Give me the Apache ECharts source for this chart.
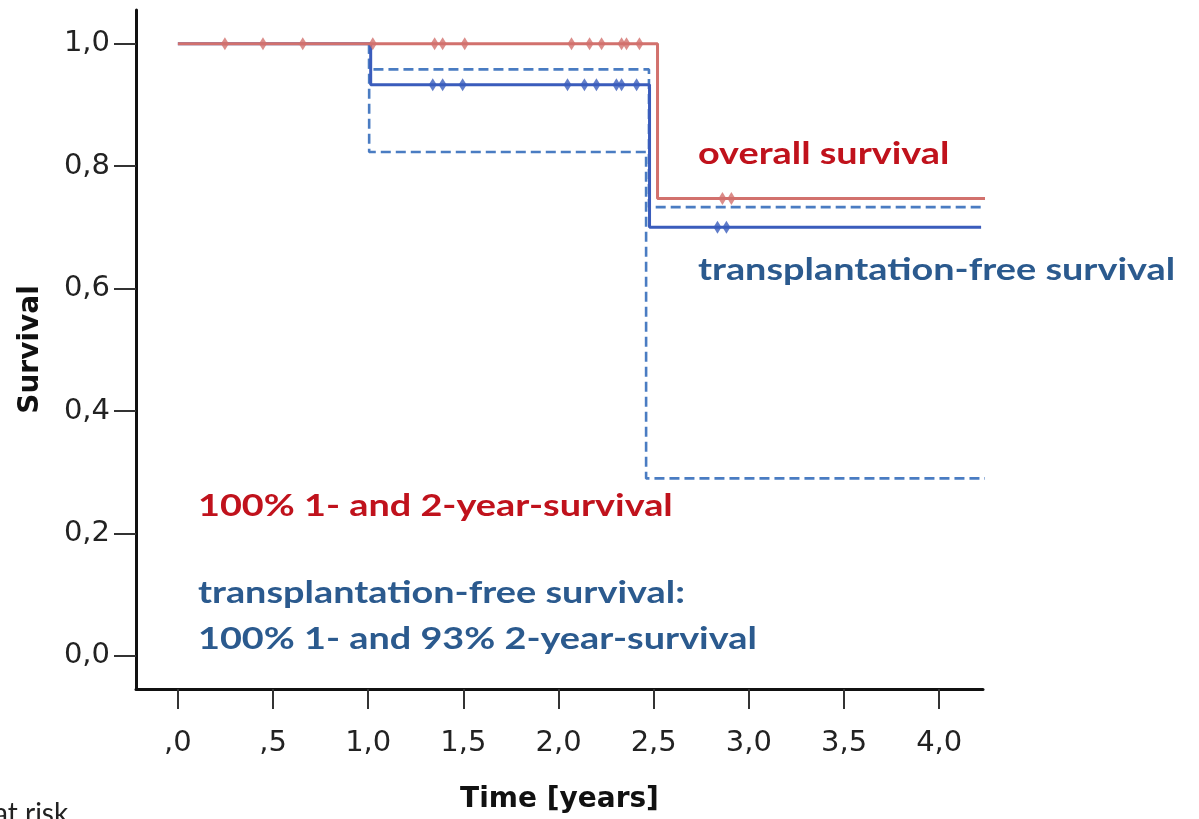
<!DOCTYPE html>
<html>
<head>
<meta charset="utf-8">
<script src="https://cdn.jsdelivr.net/npm/echarts@6/dist/echarts.min.js"></script>
<style>html,body{margin:0;padding:0;background:#fff}#c{width:1199px;height:819px}</style>
</head>
<body>
<div id="c"></div>
<script>
// Tick values and labels
var xTickValues = [0, 0.5, 1.0, 1.5, 2.0, 2.5, 3.0, 3.5, 4.0];
var xTickLabels = [',0', ',5', '1,0', '1,5', '2,0', '2,5', '3,0', '3,5', '4,0'];
var yTickValues = [0, 0.2, 0.4, 0.6, 0.8, 1.0];
var yTickLabels = ['0,0', '0,2', '0,4', '0,6', '0,8', '1,0'];

// Overall survival (step curve points: time, survival)
var overallCurve = [[0, 1.0], [2.52, 1.0], [2.52, 0.747], [4.26, 0.747]];
var overallCensors = [[0.247, 1.0], [0.447, 1.0], [0.656, 1.0], [1.024, 1.0], [1.349, 1.0], [1.391, 1.0], [1.507, 1.0],
  [2.068, 1.0], [2.163, 1.0], [2.226, 1.0], [2.331, 1.0], [2.357, 1.0], [2.425, 1.0], [2.861, 0.747], [2.908, 0.747]];

// Transplantation-free survival
var tfsCurve = [[0, 1.0], [1.013, 1.0], [1.013, 0.933], [2.478, 0.933], [2.478, 0.700], [4.22, 0.700]];
var tfsCensors = [[1.339, 0.933], [1.391, 0.933], [1.496, 0.933], [2.047, 0.933], [2.136, 0.933], [2.199, 0.933],
  [2.304, 0.933], [2.331, 0.933], [2.41, 0.933], [2.835, 0.700], [2.882, 0.700]];

// 95% confidence limits of transplantation-free survival
var tfsUpper = [[1.005, 1.0], [1.005, 0.958], [2.475, 0.958], [2.475, 0.733], [4.26, 0.733]];
var tfsLower = [[1.005, 1.0], [1.005, 0.823], [2.46, 0.823], [2.46, 0.290], [4.26, 0.290]];

var chart = echarts.init(document.getElementById('c'));
var tickFont = 'DejaVu Sans';
var annoFont = 'Lato';
var red = '#d2716d', blue = '#3a5cbc', dashBlue = '#4a7cc2';
var redText = '#c0121c', blueText = '#2b5a8e';
var sx = 1.22;

chart.setOption({
  animation: false,
  backgroundColor: '#fff',
  grid: { left: 136, right: 216, top: 10, bottom: 126, containLabel: false },
  xAxis: {
    type: 'value', min: -0.22, max: 4.23,
    name: 'Time [years]', nameLocation: 'middle', nameGap: 97,
    nameTextStyle: { fontFamily: tickFont, fontWeight: 'bold', fontSize: 28, color: '#111' },
    axisLine: { show: true, onZero: false, lineStyle: { color: '#111', width: 3 } },
    axisTick: { show: true, customValues: xTickValues, length: 20, lineStyle: { color: '#333', width: 2 } },
    axisLabel: {
      customValues: xTickValues, margin: 40, fontFamily: tickFont, fontSize: 29, color: '#222',
      formatter: function (v) { var i = xTickValues.indexOf(Math.round(v * 10) / 10); return i >= 0 ? xTickLabels[i] : ''; }
    },
    splitLine: { show: false }
  },
  yAxis: {
    type: 'value', min: -0.054, max: 1.055,
    name: 'Survival', nameLocation: 'middle', nameGap: 91, nameRotate: 90,
    nameTextStyle: { fontFamily: tickFont, fontWeight: 'bold', fontSize: 28, color: '#111' },
    axisLine: { show: true, onZero: false, lineStyle: { color: '#111', width: 3 } },
    axisTick: { show: true, customValues: yTickValues, length: 22, lineStyle: { color: '#333', width: 2 } },
    axisLabel: {
      customValues: yTickValues, margin: 26, fontFamily: tickFont, fontSize: 29, color: '#222',
      formatter: function (v) { var i = yTickValues.indexOf(Math.round(v * 10) / 10); return i >= 0 ? yTickLabels[i] : ''; }
    },
    splitLine: { show: false }
  },
  series: [
    { type: 'line', data: tfsLower, symbol: 'none', clip: false, z: 2,
      lineStyle: { color: dashBlue, width: 2.6, type: [10, 5] } },
    { type: 'line', data: tfsUpper, symbol: 'none', clip: false, z: 2,
      lineStyle: { color: dashBlue, width: 2.6, type: [10, 5] } },
    { type: 'line', data: tfsCurve, symbol: 'none', clip: false, z: 3,
      lineStyle: { color: blue, width: 3 } },
    { type: 'scatter', data: tfsCensors, symbol: 'diamond', symbolSize: [8, 13], z: 4,
      itemStyle: { color: blue } },
    { type: 'line', data: overallCurve, symbol: 'none', clip: false, z: 5,
      lineStyle: { color: red, width: 3 } },
    { type: 'scatter', data: overallCensors, symbol: 'diamond', symbolSize: [8, 13], z: 6,
      itemStyle: { color: red } }
  ],
  graphic: [
    { type: 'text', x: 698, y: 138, scaleX: sx, style: { text: 'overall survival', fill: redText, font: 'bold 31px ' + annoFont } },
    { type: 'text', x: 698, y: 254, scaleX: sx, style: { text: 'transplantation-free survival', fill: blueText, font: 'bold 31px ' + annoFont } },
    { type: 'text', x: 198, y: 490, scaleX: sx, style: { text: '100% 1- and 2-year-survival', fill: redText, font: 'bold 31px ' + annoFont } },
    { type: 'text', x: 198, y: 577, scaleX: sx, style: { text: 'transplantation-free survival:', fill: blueText, font: 'bold 31px ' + annoFont } },
    { type: 'text', x: 198, y: 623, scaleX: sx, style: { text: '100% 1- and 93% 2-year-survival', fill: blueText, font: 'bold 31px ' + annoFont } },
    { type: 'text', x: -6, y: 800, style: { text: 'at risk', fill: '#222', font: '28px ' + annoFont } }
  ]
});
</script>
</body>
</html>
